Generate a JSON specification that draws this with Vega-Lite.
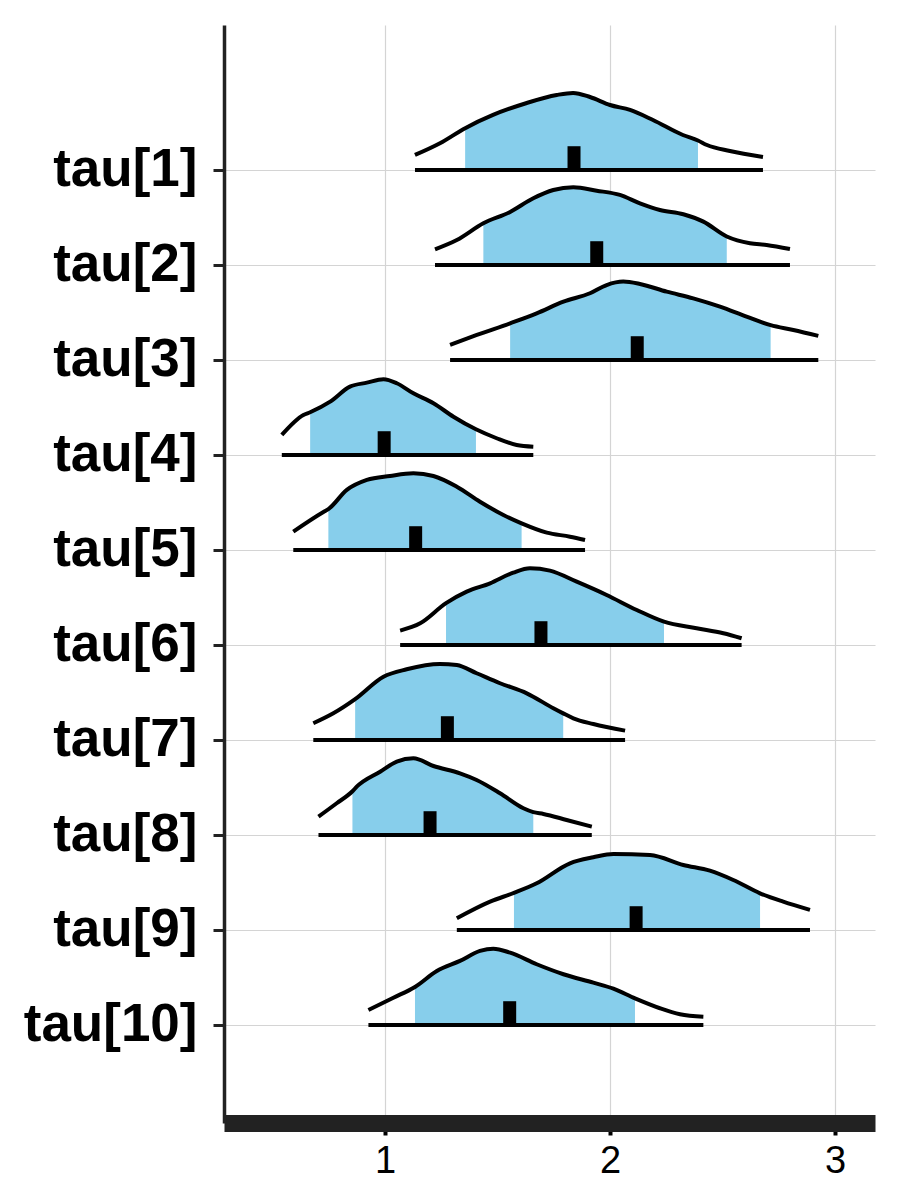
{
  "$schema": "https://vega.github.io/schema/vega-lite/v6.json",
  "autosize": "none",
  "width": 651,
  "height": 1098,
  "padding": {"left": 224, "top": 25, "right": 25, "bottom": 77},
  "background": "white",
  "config": {"view": {"stroke": null}},
  "datasets": {
    "d": [
      {"p":"tau[1]","x":1.133,"y0":10,"y1":10.158,"i":0},
      {"p":"tau[1]","x":1.244,"y0":10,"y1":10.281,"i":0},
      {"p":"tau[1]","x":1.356,"y0":10,"y1":10.44,"i":1},
      {"p":"tau[1]","x":1.48,"y0":10,"y1":10.579,"i":1},
      {"p":"tau[1]","x":1.63,"y0":10,"y1":10.705,"i":1},
      {"p":"tau[1]","x":1.763,"y0":10,"y1":10.789,"i":1},
      {"p":"tau[1]","x":1.836,"y0":10,"y1":10.811,"i":1},
      {"p":"tau[1]","x":1.911,"y0":10,"y1":10.768,"i":1},
      {"p":"tau[1]","x":2.0,"y0":10,"y1":10.684,"i":1},
      {"p":"tau[1]","x":2.089,"y0":10,"y1":10.632,"i":1},
      {"p":"tau[1]","x":2.191,"y0":10,"y1":10.526,"i":1},
      {"p":"tau[1]","x":2.324,"y0":10,"y1":10.368,"i":1},
      {"p":"tau[1]","x":2.391,"y0":10,"y1":10.31,"i":1},
      {"p":"tau[1]","x":2.431,"y0":10,"y1":10.263,"i":0},
      {"p":"tau[1]","x":2.533,"y0":10,"y1":10.2,"i":0},
      {"p":"tau[1]","x":2.68,"y0":10,"y1":10.137,"i":0},

      {"p":"tau[2]","x":1.222,"y0":9,"y1":9.165,"i":0},
      {"p":"tau[2]","x":1.319,"y0":9,"y1":9.263,"i":0},
      {"p":"tau[2]","x":1.437,"y0":9,"y1":9.439,"i":1},
      {"p":"tau[2]","x":1.556,"y0":9,"y1":9.558,"i":1},
      {"p":"tau[2]","x":1.659,"y0":9,"y1":9.702,"i":1},
      {"p":"tau[2]","x":1.748,"y0":9,"y1":9.789,"i":1},
      {"p":"tau[2]","x":1.837,"y0":9,"y1":9.818,"i":1},
      {"p":"tau[2]","x":1.941,"y0":9,"y1":9.782,"i":1},
      {"p":"tau[2]","x":2.044,"y0":9,"y1":9.737,"i":1},
      {"p":"tau[2]","x":2.133,"y0":9,"y1":9.649,"i":1},
      {"p":"tau[2]","x":2.222,"y0":9,"y1":9.579,"i":1},
      {"p":"tau[2]","x":2.326,"y0":9,"y1":9.534,"i":1},
      {"p":"tau[2]","x":2.415,"y0":9,"y1":9.456,"i":1},
      {"p":"tau[2]","x":2.519,"y0":9,"y1":9.3,"i":1},
      {"p":"tau[2]","x":2.622,"y0":9,"y1":9.228,"i":0},
      {"p":"tau[2]","x":2.696,"y0":9,"y1":9.211,"i":0},
      {"p":"tau[2]","x":2.8,"y0":9,"y1":9.168,"i":0},

      {"p":"tau[3]","x":1.289,"y0":8,"y1":8.158,"i":0},
      {"p":"tau[3]","x":1.408,"y0":8,"y1":8.263,"i":0},
      {"p":"tau[3]","x":1.556,"y0":8,"y1":8.386,"i":1},
      {"p":"tau[3]","x":1.674,"y0":8,"y1":8.491,"i":1},
      {"p":"tau[3]","x":1.793,"y0":8,"y1":8.614,"i":1},
      {"p":"tau[3]","x":1.911,"y0":8,"y1":8.702,"i":1},
      {"p":"tau[3]","x":1.985,"y0":8,"y1":8.789,"i":1},
      {"p":"tau[3]","x":2.059,"y0":8,"y1":8.825,"i":1},
      {"p":"tau[3]","x":2.133,"y0":8,"y1":8.8,"i":1},
      {"p":"tau[3]","x":2.252,"y0":8,"y1":8.719,"i":1},
      {"p":"tau[3]","x":2.37,"y0":8,"y1":8.649,"i":1},
      {"p":"tau[3]","x":2.489,"y0":8,"y1":8.561,"i":1},
      {"p":"tau[3]","x":2.607,"y0":8,"y1":8.456,"i":1},
      {"p":"tau[3]","x":2.714,"y0":8,"y1":8.366,"i":1},
      {"p":"tau[3]","x":2.815,"y0":8,"y1":8.316,"i":0},
      {"p":"tau[3]","x":2.926,"y0":8,"y1":8.253,"i":0},

      {"p":"tau[4]","x":0.541,"y0":7,"y1":7.211,"i":0},
      {"p":"tau[4]","x":0.637,"y0":7,"y1":7.421,"i":0},
      {"p":"tau[4]","x":0.667,"y0":7,"y1":7.45,"i":1},
      {"p":"tau[4]","x":0.756,"y0":7,"y1":7.561,"i":1},
      {"p":"tau[4]","x":0.844,"y0":7,"y1":7.719,"i":1},
      {"p":"tau[4]","x":0.919,"y0":7,"y1":7.761,"i":1},
      {"p":"tau[4]","x":0.993,"y0":7,"y1":7.797,"i":1},
      {"p":"tau[4]","x":1.052,"y0":7,"y1":7.755,"i":1},
      {"p":"tau[4]","x":1.126,"y0":7,"y1":7.649,"i":1},
      {"p":"tau[4]","x":1.215,"y0":7,"y1":7.544,"i":1},
      {"p":"tau[4]","x":1.304,"y0":7,"y1":7.403,"i":1},
      {"p":"tau[4]","x":1.404,"y0":7,"y1":7.27,"i":1},
      {"p":"tau[4]","x":1.496,"y0":7,"y1":7.176,"i":0},
      {"p":"tau[4]","x":1.585,"y0":7,"y1":7.105,"i":0},
      {"p":"tau[4]","x":1.659,"y0":7,"y1":7.087,"i":0},

      {"p":"tau[5]","x":0.592,"y0":6,"y1":6.193,"i":0},
      {"p":"tau[5]","x":0.726,"y0":6,"y1":6.40,"i":0},
      {"p":"tau[5]","x":0.748,"y0":6,"y1":6.43,"i":1},
      {"p":"tau[5]","x":0.830,"y0":6,"y1":6.632,"i":1},
      {"p":"tau[5]","x":0.919,"y0":6,"y1":6.737,"i":1},
      {"p":"tau[5]","x":1.022,"y0":6,"y1":6.779,"i":1},
      {"p":"tau[5]","x":1.126,"y0":6,"y1":6.807,"i":1},
      {"p":"tau[5]","x":1.215,"y0":6,"y1":6.779,"i":1},
      {"p":"tau[5]","x":1.319,"y0":6,"y1":6.666,"i":1},
      {"p":"tau[5]","x":1.422,"y0":6,"y1":6.508,"i":1},
      {"p":"tau[5]","x":1.526,"y0":6,"y1":6.368,"i":1},
      {"p":"tau[5]","x":1.607,"y0":6,"y1":6.28,"i":1},
      {"p":"tau[5]","x":1.719,"y0":6,"y1":6.182,"i":0},
      {"p":"tau[5]","x":1.822,"y0":6,"y1":6.14,"i":0},
      {"p":"tau[5]","x":1.889,"y0":6,"y1":6.105,"i":0},

      {"p":"tau[6]","x":1.067,"y0":5,"y1":5.151,"i":0},
      {"p":"tau[6]","x":1.156,"y0":5,"y1":5.228,"i":0},
      {"p":"tau[6]","x":1.271,"y0":5,"y1":5.44,"i":1},
      {"p":"tau[6]","x":1.363,"y0":5,"y1":5.561,"i":1},
      {"p":"tau[6]","x":1.467,"y0":5,"y1":5.649,"i":1},
      {"p":"tau[6]","x":1.57,"y0":5,"y1":5.761,"i":1},
      {"p":"tau[6]","x":1.644,"y0":5,"y1":5.807,"i":1},
      {"p":"tau[6]","x":1.733,"y0":5,"y1":5.782,"i":1},
      {"p":"tau[6]","x":1.852,"y0":5,"y1":5.666,"i":1},
      {"p":"tau[6]","x":1.985,"y0":5,"y1":5.526,"i":1},
      {"p":"tau[6]","x":2.119,"y0":5,"y1":5.368,"i":1},
      {"p":"tau[6]","x":2.24,"y0":5,"y1":5.245,"i":1},
      {"p":"tau[6]","x":2.385,"y0":5,"y1":5.176,"i":0},
      {"p":"tau[6]","x":2.504,"y0":5,"y1":5.123,"i":0},
      {"p":"tau[6]","x":2.585,"y0":5,"y1":5.07,"i":0},

      {"p":"tau[7]","x":0.681,"y0":4,"y1":4.176,"i":0},
      {"p":"tau[7]","x":0.770,"y0":4,"y1":4.281,"i":0},
      {"p":"tau[7]","x":0.867,"y0":4,"y1":4.43,"i":1},
      {"p":"tau[7]","x":0.993,"y0":4,"y1":4.666,"i":1},
      {"p":"tau[7]","x":1.096,"y0":4,"y1":4.744,"i":1},
      {"p":"tau[7]","x":1.244,"y0":4,"y1":4.8,"i":1},
      {"p":"tau[7]","x":1.319,"y0":4,"y1":4.789,"i":1},
      {"p":"tau[7]","x":1.407,"y0":4,"y1":4.702,"i":1},
      {"p":"tau[7]","x":1.511,"y0":4,"y1":4.597,"i":1},
      {"p":"tau[7]","x":1.63,"y0":4,"y1":4.491,"i":1},
      {"p":"tau[7]","x":1.748,"y0":4,"y1":4.334,"i":1},
      {"p":"tau[7]","x":1.792,"y0":4,"y1":4.28,"i":1},
      {"p":"tau[7]","x":1.837,"y0":4,"y1":4.228,"i":0},
      {"p":"tau[7]","x":1.926,"y0":4,"y1":4.168,"i":0},
      {"p":"tau[7]","x":2.067,"y0":4,"y1":4.098,"i":0},

      {"p":"tau[8]","x":0.704,"y0":3,"y1":3.193,"i":0},
      {"p":"tau[8]","x":0.785,"y0":3,"y1":3.334,"i":0},
      {"p":"tau[8]","x":0.855,"y0":3,"y1":3.46,"i":1},
      {"p":"tau[8]","x":0.874,"y0":3,"y1":3.508,"i":1},
      {"p":"tau[8]","x":0.978,"y0":3,"y1":3.666,"i":1},
      {"p":"tau[8]","x":1.052,"y0":3,"y1":3.772,"i":1},
      {"p":"tau[8]","x":1.126,"y0":3,"y1":3.807,"i":1},
      {"p":"tau[8]","x":1.215,"y0":3,"y1":3.726,"i":1},
      {"p":"tau[8]","x":1.333,"y0":3,"y1":3.649,"i":1},
      {"p":"tau[8]","x":1.407,"y0":3,"y1":3.579,"i":1},
      {"p":"tau[8]","x":1.511,"y0":3,"y1":3.439,"i":1},
      {"p":"tau[8]","x":1.615,"y0":3,"y1":3.281,"i":1},
      {"p":"tau[8]","x":1.659,"y0":3,"y1":3.24,"i":1},
      {"p":"tau[8]","x":1.704,"y0":3,"y1":3.221,"i":0},
      {"p":"tau[8]","x":1.807,"y0":3,"y1":3.158,"i":0},
      {"p":"tau[8]","x":1.919,"y0":3,"y1":3.087,"i":0},

      {"p":"tau[9]","x":1.319,"y0":2,"y1":2.123,"i":0},
      {"p":"tau[9]","x":1.467,"y0":2,"y1":2.298,"i":0},
      {"p":"tau[9]","x":1.573,"y0":2,"y1":2.39,"i":1},
      {"p":"tau[9]","x":1.674,"y0":2,"y1":2.491,"i":1},
      {"p":"tau[9]","x":1.822,"y0":2,"y1":2.702,"i":1},
      {"p":"tau[9]","x":1.926,"y0":2,"y1":2.765,"i":1},
      {"p":"tau[9]","x":2.015,"y0":2,"y1":2.8,"i":1},
      {"p":"tau[9]","x":2.178,"y0":2,"y1":2.789,"i":1},
      {"p":"tau[9]","x":2.326,"y0":2,"y1":2.684,"i":1},
      {"p":"tau[9]","x":2.444,"y0":2,"y1":2.624,"i":1},
      {"p":"tau[9]","x":2.548,"y0":2,"y1":2.526,"i":1},
      {"p":"tau[9]","x":2.667,"y0":2,"y1":2.386,"i":1},
      {"p":"tau[9]","x":2.77,"y0":2,"y1":2.298,"i":0},
      {"p":"tau[9]","x":2.889,"y0":2,"y1":2.211,"i":0},

      {"p":"tau[10]","x":0.926,"y0":1,"y1":1.158,"i":0},
      {"p":"tau[10]","x":1.037,"y0":1,"y1":1.287,"i":0},
      {"p":"tau[10]","x":1.133,"y0":1,"y1":1.40,"i":1},
      {"p":"tau[10]","x":1.23,"y0":1,"y1":1.568,"i":1},
      {"p":"tau[10]","x":1.333,"y0":1,"y1":1.674,"i":1},
      {"p":"tau[10]","x":1.422,"y0":1,"y1":1.779,"i":1},
      {"p":"tau[10]","x":1.481,"y0":1,"y1":1.803,"i":1},
      {"p":"tau[10]","x":1.556,"y0":1,"y1":1.761,"i":1},
      {"p":"tau[10]","x":1.674,"y0":1,"y1":1.639,"i":1},
      {"p":"tau[10]","x":1.793,"y0":1,"y1":1.534,"i":1},
      {"p":"tau[10]","x":1.926,"y0":1,"y1":1.445,"i":1},
      {"p":"tau[10]","x":2.015,"y0":1,"y1":1.382,"i":1},
      {"p":"tau[10]","x":2.111,"y0":1,"y1":1.28,"i":1},
      {"p":"tau[10]","x":2.222,"y0":1,"y1":1.176,"i":0},
      {"p":"tau[10]","x":2.311,"y0":1,"y1":1.113,"i":0},
      {"p":"tau[10]","x":2.415,"y0":1,"y1":1.087,"i":0}
    ],
    "m": [
      {"p":"tau[1]","x":1.84,"y0":10,"y1":10.25},
      {"p":"tau[2]","x":1.941,"y0":9,"y1":9.25},
      {"p":"tau[3]","x":2.121,"y0":8,"y1":8.25},
      {"p":"tau[4]","x":0.996,"y0":7,"y1":7.25},
      {"p":"tau[5]","x":1.136,"y0":6,"y1":6.25},
      {"p":"tau[6]","x":1.693,"y0":5,"y1":5.25},
      {"p":"tau[7]","x":1.277,"y0":4,"y1":4.25},
      {"p":"tau[8]","x":1.2,"y0":3,"y1":3.25},
      {"p":"tau[9]","x":2.116,"y0":2,"y1":2.25},
      {"p":"tau[10]","x":1.554,"y0":1,"y1":1.25}
    ]
  },
  "encoding": {
    "x": {
      "field": "x", "type": "quantitative",
      "scale": {"domain": [0.284, 3.178], "nice": false, "zero": false},
      "axis": {
        "title": null, "values": [1, 2, 3], "format": "d",
        "grid": true, "gridColor": "#d4d4d4", "gridWidth": 1.2,
        "domainColor": "#222222", "domainWidth": 17, "domainCap": "butt",
        "tickColor": "#000000", "tickWidth": 4, "tickSize": 12,
        "labelFont": "Liberation Sans", "labelFontSize": 38, "labelColor": "#000000",
        "labelPadding": 7, "labelFlush": false
      }
    }
  },
  "layer": [
    {
      "data": {"name": "d"},
      "transform": [{"filter": "datum.i == 1"}],
      "mark": {"type": "area", "interpolate": "monotone", "color": "#87CEEB", "opacity": 1},
      "encoding": {
        "y": {
          "field": "y1", "type": "quantitative",
          "scale": {"domain": [-0.032, 11.526], "nice": false, "zero": false},
          "axis": {
            "title": null, "values": [1, 2, 3, 4, 5, 6, 7, 8, 9, 10],
            "labelExpr": "'tau[' + (11 - datum.value) + ']'",
            "grid": true, "gridColor": "#d4d4d4", "gridWidth": 1.2,
            "domainColor": "#222222", "domainWidth": 3.5,
            "tickColor": "#222222", "tickWidth": 3, "tickSize": 11,
            "labelFont": "Liberation Sans", "labelFontSize": 53, "labelFontWeight": "bold",
            "labelColor": "#000000", "labelPadding": 16, "labelFlush": false, "labelOverlap": false
          }
        },
        "y2": {"field": "y0"},
        "detail": {"field": "p"}
      }
    },
    {
      "data": {"name": "d"},
      "mark": {"type": "line", "interpolate": "monotone", "color": "#000000", "strokeWidth": 4},
      "encoding": {
        "y": {"field": "y1", "type": "quantitative"},
        "detail": {"field": "p"}
      }
    },
    {
      "data": {"name": "d"},
      "mark": {"type": "line", "color": "#000000", "strokeWidth": 4},
      "encoding": {
        "y": {"field": "y0", "type": "quantitative"},
        "detail": {"field": "p"}
      }
    },
    {
      "data": {"name": "m"},
      "mark": {"type": "rule", "color": "#000000", "strokeWidth": 13, "strokeCap": "butt"},
      "encoding": {
        "y": {"field": "y0", "type": "quantitative"},
        "y2": {"field": "y1"}
      }
    }
  ]
}
